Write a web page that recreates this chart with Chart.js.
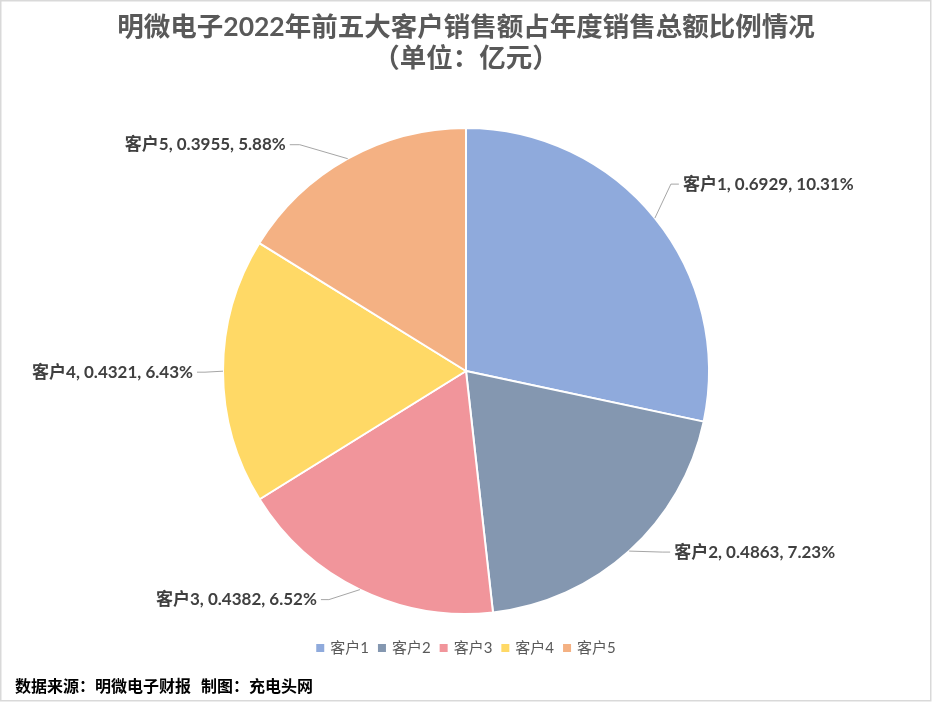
<!DOCTYPE html>
<html>
<head>
<meta charset="utf-8">
<script src="https://cdn.jsdelivr.net/npm/chart.js@4.4.0/dist/chart.umd.min.js"></script>
<style>
html,body{margin:0;padding:0;background:#fff;}
canvas{display:block;}
</style>
</head>
<body>
<canvas id="c" width="932" height="702"></canvas>
<script>
const categories = ['客户1', '客户2', '客户3', '客户4', '客户5'];
const salesValues = [0.6929, 0.4863, 0.4382, 0.4321, 0.3955];
const shareOfTotal = ['10.31%', '7.23%', '6.52%', '6.43%', '5.88%'];
const sliceColors = ['#8FAADC', '#8497B0', '#F1959B', '#FFD966', '#F4B183'];
const titleLines = ['明微电子2022年前五大客户销售额占年度销售总额比例情况', '（单位：亿元）'];
const footerText = '数据来源：明微电子财报 制图：充电头网';

// leader-line layout: elbow offset from slice edge, then short horizontal run
const leaderLayout = [
  {dx: 16, dy: -34, run: 8},
  {dx: 33, dy: 1, run: 8},
  {dx: -31, dy: 10, run: -8},
  {dx: -18, dy: 1, run: -8},
  {dx: -48, dy: -14, run: -10}
];

const CJK = '"Noto Sans CJK SC"';
const LAT = '"Lato"';

const decor = {
  id: 'decor',
  beforeDraw(chart) {
    const ctx = chart.ctx;
    ctx.save();
    ctx.fillStyle = '#ffffff';
    ctx.fillRect(0, 0, chart.width, chart.height);
    ctx.restore();
  },
  afterDraw(chart) {
    const ctx = chart.ctx;
    ctx.save();
    // border
    ctx.strokeStyle = '#d9d9d9';
    ctx.lineWidth = 1.5;
    ctx.strokeRect(0.75, 0.75, 930, 700);

    // title
    ctx.fillStyle = '#595959';
    ctx.textAlign = 'center';
    ctx.textBaseline = 'middle';
    ctx.font = `bold 26.5px ${LAT}, ${CJK}`;
    ctx.fillText(titleLines[0], 466, 27);
    ctx.fillText(titleLines[1], 466, 58);

    // data labels
    const meta = chart.getDatasetMeta(0);
    ctx.font = `bold 17px ${LAT}, ${CJK}`;
    meta.data.forEach((arc, i) => {
      const p = arc.getProps(['x', 'y', 'startAngle', 'endAngle', 'outerRadius'], true);
      const mid = (p.startAngle + p.endAngle) / 2;
      const ex = p.x + Math.cos(mid) * p.outerRadius;
      const ey = p.y + Math.sin(mid) * p.outerRadius;
      const L = leaderLayout[i];
      const bx = ex + L.dx, by = ey + L.dy;
      const tx = bx + L.run;
      ctx.strokeStyle = '#a6a6a6';
      ctx.lineWidth = 1;
      ctx.beginPath();
      ctx.moveTo(ex, ey);
      ctx.lineTo(bx, by);
      ctx.lineTo(tx, by);
      ctx.stroke();
      const txt = `${categories[i]}, ${salesValues[i].toFixed(4)}, ${shareOfTotal[i]}`;
      ctx.fillStyle = '#404040';
      ctx.textBaseline = 'middle';
      if (L.run >= 0) {
        ctx.textAlign = 'left';
        ctx.fillText(txt, tx + 4, by);
      } else {
        ctx.textAlign = 'right';
        ctx.fillText(txt, tx - 4, by);
      }
    });

    // legend
    ctx.font = `15px ${LAT}, ${CJK}`;
    const box = 8, gap = 6, itemGap = 9;
    const widths = categories.map(c => box + gap + ctx.measureText(c).width);
    const total = widths.reduce((a, b) => a + b, 0) + itemGap * (categories.length - 1);
    let x = 466 - total / 2;
    const ly = 648;
    categories.forEach((c, i) => {
      ctx.fillStyle = sliceColors[i];
      ctx.fillRect(x, ly - box / 2, box, box);
      ctx.fillStyle = '#595959';
      ctx.textAlign = 'left';
      ctx.textBaseline = 'middle';
      ctx.fillText(c, x + box + gap, ly);
      x += widths[i] + itemGap;
    });

    // footer
    ctx.fillStyle = '#000000';
    ctx.font = `bold 16px ${CJK}`;
    ctx.textAlign = 'left';
    ctx.textBaseline = 'middle';
    const parts = footerText.split(' ');
    ctx.fillText(parts[0], 15, 686);
    const w0 = ctx.measureText(parts[0]).width;
    ctx.fillText(parts[1], 15 + w0 + 10, 686);
    ctx.restore();
  }
};

new Chart(document.getElementById('c'), {
  type: 'pie',
  data: {
    labels: categories,
    datasets: [{
      data: salesValues,
      backgroundColor: sliceColors,
      borderColor: '#ffffff',
      borderWidth: 2
    }]
  },
  options: {
    responsive: false,
    animation: false,
    devicePixelRatio: 1,
    layout: {padding: {top: 127, bottom: 87, left: 0, right: 0}},
    plugins: {
      legend: {display: false},
      tooltip: {enabled: false},
      title: {display: false}
    }
  },
  plugins: [decor]
});
</script>
</body>
</html>
